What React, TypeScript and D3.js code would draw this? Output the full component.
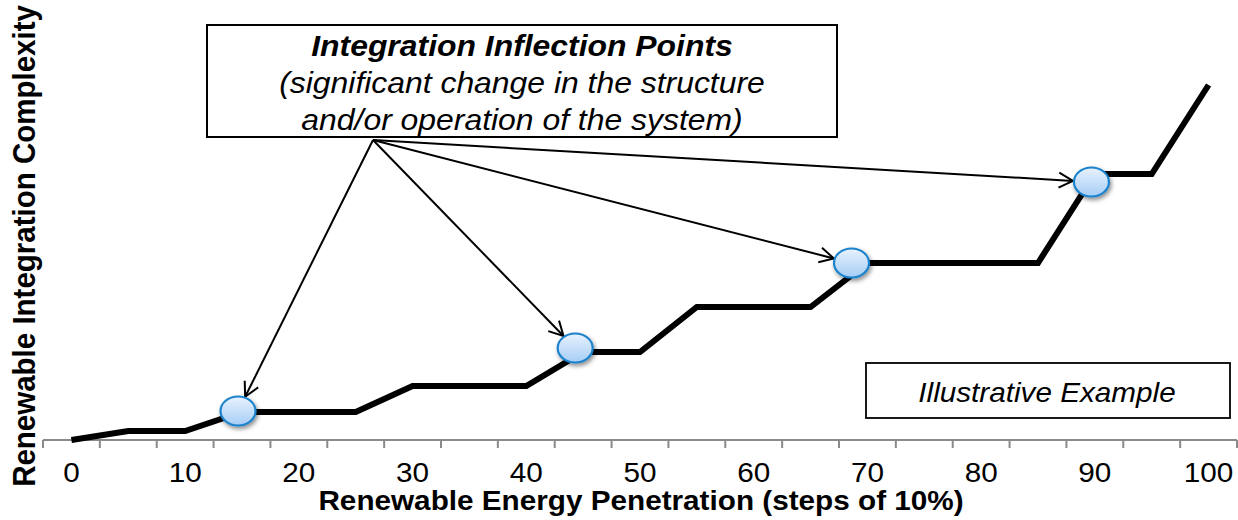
import React from "react";
import * as d3 from "d3";

const categories = [0, 5, 10, 15, 20, 25, 30, 35, 40, 45, 50, 55, 60, 65, 70, 75, 80, 85, 90, 95, 100];
const complexity = [0, 2.25, 2.25, 7, 7, 7, 13.5, 13.5, 13.5, 22, 22, 33.25, 33.25, 33.25, 44.25, 44.25, 44.25, 44.25, 66.5, 66.5, 88.75];
const tickLabels = [0, 10, 20, 30, 40, 50, 60, 70, 80, 90, 100];
const inflectionX = [14.65, 44.3, 68.6, 89.7];
const inflectionY = [7.25, 23, 44.25, 64.5];

const titleLines = [
  "Integration Inflection Points",
  "(significant change in the structure",
  "and/or operation of the system)",
];
const noteText = "Illustrative Example";
const xTitle = "Renewable Energy Penetration (steps of 10%)";
const yTitle = "Renewable Integration Complexity";

const W = 1238;
const H = 520;
const FONT = "'Liberation Sans', Arial, Helvetica, sans-serif";
const SX = 1.1;

function SText(props: {
  x: number;
  y: number;
  size: number;
  bold?: boolean;
  italic?: boolean;
  sx?: number;
  children: React.ReactNode;
}) {
  const { x, y, size, bold, italic, sx = SX, children } = props;
  return (
    <text
      transform={`translate(${x},${y}) scale(${sx},1)`}
      textAnchor="middle"
      fontFamily={FONT}
      fontSize={size}
      fontWeight={bold ? "bold" : "normal"}
      fontStyle={italic ? "italic" : "normal"}
      fill="#000"
    >
      {children}
    </text>
  );
}

export default function App() {
  const x = d3.scaleLinear().domain([-2.5, 102.5]).range([43, 1237]);
  const y = d3.scaleLinear().domain([0, 100]).range([440, 40]);
  const axisY = y(0);

  const line = d3
    .line<number>()
    .x((_, i) => x(categories[i]))
    .y((d) => y(d));

  const tickPositions = d3.range(0, categories.length + 1).map((i) => -2.5 + i * 5);

  const rx = 17.5;
  const ry = 14.5;

  const box = { x0: 207, y0: 25, x1: 837, y1: 137 };
  const origin = { x: 373, y: 140 };

  const arrows = inflectionX.map((vx, i) => {
    const cx = x(vx);
    const cy = y(inflectionY[i]);
    const dx = cx - origin.x;
    const dy = cy - origin.y;
    const len = Math.hypot(dx, dy);
    const ux = dx / len;
    const uy = dy / len;
    const r = 1 / Math.sqrt((ux / rx) ** 2 + (uy / ry) ** 2);
    const tx = cx - ux * (r + 1);
    const ty = cy - uy * (r + 1);
    const hl = 16;
    const ang = (28 * Math.PI) / 180;
    const cos = Math.cos(ang);
    const sin = Math.sin(ang);
    const bx = -ux, by = -uy;
    const h1x = tx + hl * (bx * cos - by * sin);
    const h1y = ty + hl * (bx * sin + by * cos);
    const h2x = tx + hl * (bx * cos + by * sin);
    const h2y = ty + hl * (-bx * sin + by * cos);
    return { tx, ty, h1x, h1y, h2x, h2y };
  });

  return (
    <svg
      width={W}
      height={H}
      viewBox={`0 0 ${W} ${H}`}
      style={{ position: "absolute", left: 0, top: 0, background: "#fff" }}
    >
      <defs>
        <linearGradient id="bubble" x1="0" y1="0" x2="0" y2="1">
          <stop offset="0" stopColor="#e8f2fd" />
          <stop offset="1" stopColor="#a6cdf6" />
        </linearGradient>
        <filter id="shadow" x="-50%" y="-50%" width="200%" height="200%">
          <feDropShadow dx="1.5" dy="2.5" stdDeviation="2" floodColor="#000" floodOpacity="0.45" />
        </filter>
      </defs>

      {/* x axis */}
      <line x1={x(-2.5)} x2={x(102.5)} y1={axisY} y2={axisY} stroke="#8a8a8a" strokeWidth={2} />
      {tickPositions.map((t, i) => (
        <line key={i} x1={x(t)} x2={x(t)} y1={axisY} y2={axisY + 8} stroke="#8a8a8a" strokeWidth={2} />
      ))}
      {tickLabels.map((t) => (
        <SText key={t} x={x(t)} y={482} size={27}>
          {t}
        </SText>
      ))}

      {/* axis titles */}
      <SText x={641} y={510} size={27} bold>
        {xTitle}
      </SText>
      <text
        transform={`translate(35,246) rotate(-90) scale(1,1.05)`}
        textAnchor="middle"
        fontFamily={FONT}
        fontSize={29.5}
        fontWeight="bold"
        fill="#000"
      >
        {yTitle}
      </text>

      {/* main line */}
      <path d={line(complexity) || ""} fill="none" stroke="#000" strokeWidth={6} strokeLinejoin="miter" />

      {/* annotation box */}
      <rect x={box.x0} y={box.y0} width={box.x1 - box.x0} height={box.y1 - box.y0} fill="#fff" stroke="#000" strokeWidth={2} />
      {titleLines.map((t, i) => (
        <SText key={i} x={(box.x0 + box.x1) / 2} y={56 + i * 37} size={29} italic bold={i === 0}>
          {t}
        </SText>
      ))}

      {/* arrows */}
      {arrows.map((a, i) => (
        <g key={i} stroke="#000" strokeWidth={2} fill="none">
          <line x1={origin.x} y1={origin.y} x2={a.tx} y2={a.ty} />
          <polyline points={`${a.h1x},${a.h1y} ${a.tx},${a.ty} ${a.h2x},${a.h2y}`} />
        </g>
      ))}

      {/* inflection bubbles */}
      {inflectionX.map((vx, i) => (
        <ellipse
          key={i}
          cx={x(vx)}
          cy={y(inflectionY[i])}
          rx={rx}
          ry={ry}
          fill="url(#bubble)"
          stroke="#1a82cc"
          strokeWidth={2.2}
          filter="url(#shadow)"
        />
      ))}

      {/* illustrative note */}
      <rect x={866} y={363} width={364} height={55} fill="#fff" stroke="#000" strokeWidth={1.8} />
      <SText x={1047} y={402} size={27} italic>
        {noteText}
      </SText>
    </svg>
  );
}
